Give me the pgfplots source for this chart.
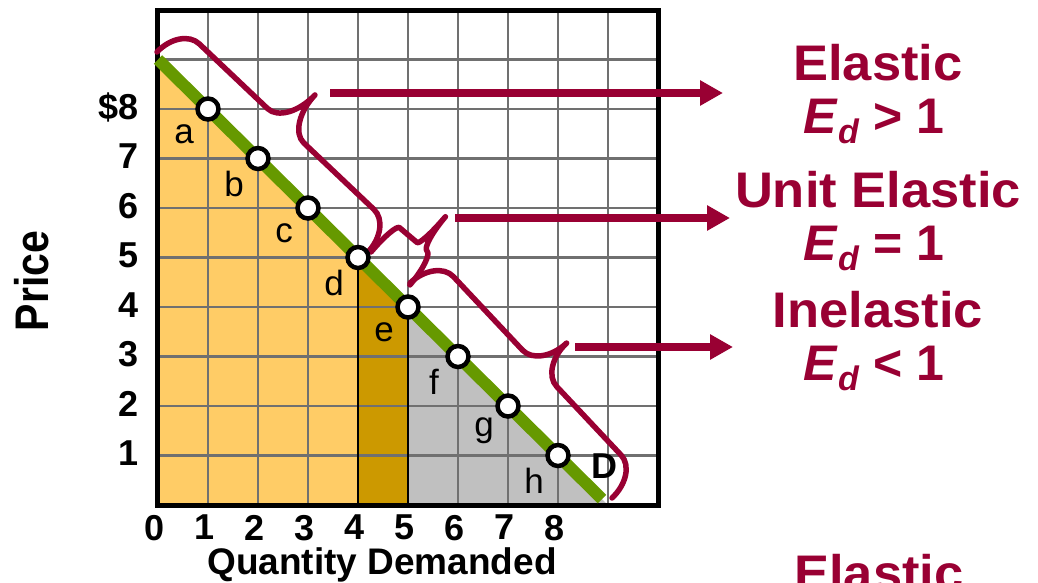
\documentclass[border=0pt]{standalone}
\usepackage{pgfplots}
\pgfplotsset{compat=1.18}
\usepackage{fontspec}
\setmainfont{Liberation Sans}
\usetikzlibrary{arrows.meta}
\definecolor{lightorange}{HTML}{FFCC66}
\definecolor{darkgold}{HTML}{CC9900}
\definecolor{lightgray}{HTML}{C0C0C0}
\definecolor{demandgreen}{HTML}{669900}
\definecolor{maroon}{HTML}{990033}
\definecolor{gridgray}{HTML}{707070}
\tikzset{bracestyle/.style={line width=5.5pt, draw=maroon, line cap=round, line join=round}}
\pgfplotsset{frame/.style={at={(158pt,-505pt)}, anchor=south west,
  scale only axis, width=500pt, height=495pt,
  xmin=0, xmax=10, ymin=0, ymax=10, clip=false}}

\begin{document}
\begin{tikzpicture}
% layer 1: shaded areas under the demand curve
\begin{axis}[frame, hide axis]
\addplot[fill=lightorange, draw=none] coordinates {(0,0) (0,9) (4,5) (4,0)} -- cycle;
\addplot[fill=darkgold, draw=none] coordinates {(4,0) (4,5) (5,4) (5,0)} -- cycle;
\addplot[fill=lightgray, draw=none] coordinates {(5,0) (5,4) (9,0)} -- cycle;
\end{axis}
% layer 2: grid, frame, ticks, dividers, demand curve
\begin{axis}[frame,
  axis line style={line width=5pt, line cap=rect, black},
  grid=major, major grid style={line width=2.5pt, draw=gridgray},
  major tick length=0pt,
  xtick={0,1,...,10}, ytick={0,1,...,10},
  xticklabels={0,1,2,3,4,5,6,7,8,,},
  yticklabels={,1,2,3,4,5,6,7,\$8,,},
  /pgf/number format/assume math mode=true,
  ticklabel style={font=\fontsize{36}{40}\selectfont\bfseries, inner sep=0pt},
  xticklabel style={anchor=north, yshift=-10pt, xshift=-3pt},
  yticklabel style={anchor=east, xshift=-19.5pt, yshift=2pt},
  xlabel={Quantity Demanded},
  ylabel={\scalebox{1}[1.15]{Price}},
  xlabel style={at={(axis description cs:0.448,-0.1394)}, anchor=base, inner sep=0pt,
    font=\fontsize{37}{40}\selectfont\bfseries},
  ylabel style={at={(axis description cs:-0.218,0.4525)}, anchor=base, inner sep=0pt,
    font=\fontsize{41}{44}\selectfont\bfseries},
]
\addplot[black, line width=2pt] coordinates {(4,0) (4,5)};
\addplot[black, line width=2pt] coordinates {(5,0) (5,4)};
\addplot[demandgreen, line width=12pt] coordinates {(0,9) (8.88,0.12)};
\end{axis}

% braces (local frame along the demand curve, lengths in pt)
\draw[bracestyle, shift={(157pt,-52pt)}, rotate=-43.47]
  (0pt,0pt) .. controls (0pt,19.25pt) and (11.25pt,35pt) .. (25pt,35pt)
  -- (119.2pt,35pt) .. controls (132.95pt,35pt) and (144.2pt,54.1pt) .. (144.2pt,77.5pt)
  .. controls (144.2pt,54.1pt) and (155.45pt,35pt) .. (169.2pt,35pt)
  -- (265.7pt,35pt) .. controls (279.45pt,35pt) and (290.7pt,19.25pt) .. (290.7pt,0pt);
\draw[bracestyle, shift={(371pt,-252pt)}, rotate=-40.24]
  (0pt,0pt) .. controls (0pt,20.35pt) and (2.7pt,37pt) .. (6pt,37pt)
  -- (29pt,37pt) .. controls (31.75pt,37pt) and (34pt,54.1pt) .. (34pt,75pt)
  .. controls (34pt,54.1pt) and (37.6pt,37pt) .. (42pt,37pt)
  .. controls (46.95pt,37pt) and (51pt,20.35pt) .. (51pt,0pt);
\draw[bracestyle, shift={(410pt,-283pt)}, rotate=-46.78]
  (0pt,0pt) .. controls (0pt,19.8pt) and (11.25pt,36pt) .. (25pt,36pt)
  -- (126pt,36pt) .. controls (139.75pt,36pt) and (151pt,52.65pt) .. (151pt,73pt)
  .. controls (151pt,52.65pt) and (162.25pt,36pt) .. (176pt,36pt)
  -- (270pt,36pt) .. controls (283.75pt,36pt) and (295pt,19.8pt) .. (295pt,0pt);

% layer 3: points a-h
\begin{axis}[frame, hide axis]
\addplot[only marks, mark=*, mark size=10.5pt,
  mark options={fill=white, draw=black, line width=4.5pt},
  nodes near coords, point meta=explicit symbolic,
  nodes near coords style={anchor=center, xshift=-24pt, yshift=-25pt, text=black,
    font=\fontsize{35}{40}\selectfont}]
  table[meta=lab] {
x y lab
1 8 a
2 7 b
3 6 c
4 5 d
5 4 e
6 3 f
7 2 g
8 1 h
};
\node[font=\fontsize{36}{40}\selectfont\bfseries] at (axis cs:8.92,0.79) {D};
\end{axis}

% arrows
\draw[maroon, line width=8pt, -{Triangle[length=23pt,width=24pt]}] (330pt,-93pt) -- (723pt,-93pt);
\draw[maroon, line width=8pt, -{Triangle[length=23pt,width=24pt]}] (455pt,-218pt) -- (730pt,-218pt);
\draw[maroon, line width=8pt, -{Triangle[length=23pt,width=24pt]}] (575pt,-347pt) -- (733pt,-347pt);

% right-hand labels
\begin{scope}[every node/.style={anchor=base, text=maroon, inner sep=0pt, font=\fontsize{50}{55}\selectfont\bfseries}]
\node at (878pt,-80pt) {\scalebox{1.05}[1]{Elastic}};
\node at (874pt,-133pt) {\textit{E}\raisebox{-10pt}{\fontsize{34}{34}\selectfont\textit{d}} > 1};
\node at (878pt,-207pt) {\scalebox{1.05}[1]{Unit Elastic}};
\node at (874pt,-260pt) {\textit{E}\raisebox{-10pt}{\fontsize{34}{34}\selectfont\textit{d}} = 1};
\node at (878pt,-327pt) {\scalebox{1.05}[1]{Inelastic}};
\node at (874pt,-380pt) {\textit{E}\raisebox{-10pt}{\fontsize{34}{34}\selectfont\textit{d}} < 1};
\begin{scope}
\clip (700pt,-500pt) rectangle (1038pt,-582pt);
\node at (879pt,-590pt) {\scalebox{1.05}[1]{Elastic}};
\end{scope}
\end{scope}
\pgfresetboundingbox
\useasboundingbox (0pt,0pt) rectangle (1038pt,-582pt);
\end{tikzpicture}
\end{document}
